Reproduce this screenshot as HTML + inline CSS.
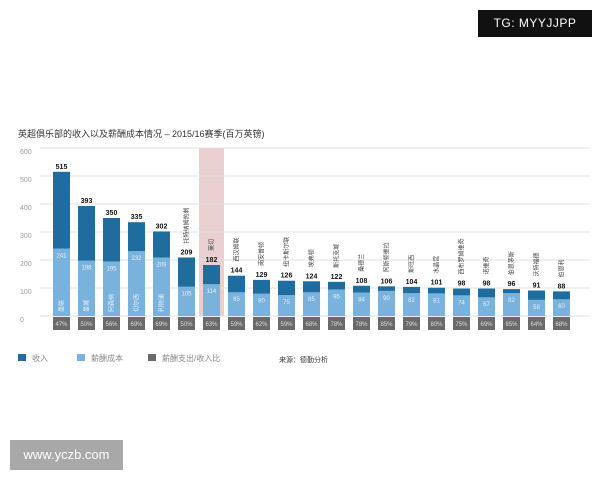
<!DOCTYPE html>
<html><head><meta charset="utf-8">
<style>
body{margin:0;width:600px;height:480px;background:#fff;overflow:hidden;position:relative;font-family:"Liberation Sans","Noto Sans CJK SC",sans-serif}
.abs{position:absolute}
</style></head>
<body>
<div class="abs" style="left:478px;top:10px;width:114px;height:27px;background:#111;color:#fff;font-size:12px;line-height:27px;text-align:center;letter-spacing:0.5px">TG: MYYJJPP</div>
<div class="abs" style="left:10px;top:440px;width:113px;height:30px;background:#a8a8a8;color:#fff;font-size:13px;line-height:30px;text-align:center">www.yczb.com</div>
<svg class="abs" style="left:0;top:0" width="600" height="480">
<text x="18" y="137" font-size="9" fill="#333">英超俱乐部的收入以及薪酬成本情况 – 2015/16赛季(百万英镑)</text>
<g id="grid"></g><g id="bars"></g>
<g font-size="8" fill="#888">
<rect x="18" y="354" width="8" height="7" fill="#1f6c9e"/><text x="32" y="361">收入</text>
<rect x="77" y="354" width="8" height="7" fill="#79b2dd"/><text x="91" y="361">薪酬成本</text>
<rect x="148" y="354" width="8" height="7" fill="#6a6a6a"/><text x="162" y="361">薪酬支出/收入比</text>
<text x="279" y="362" font-size="7" fill="#333">来源：德勤分析</text>
</g>
</svg>
<script>
const clubs=["曼联","曼城","阿森纳","切尔西","利物浦","托特纳姆热刺","莱切","西汉姆联","南安普顿","纽卡斯尔联","埃弗顿","斯托克城","桑德兰","阿斯顿维拉","斯旺西","水晶宫","西布罗姆维奇","诺维奇","伯恩茅斯","沃特福德","伯恩利"];
const revenue=[515,393,350,335,302,209,182,144,129,126,124,122,108,106,104,101,98,98,96,91,88];
const wages=[241,198,195,232,209,105,114,85,80,75,85,95,84,90,82,81,74,67,82,58,60];
const ratio=[47,50,56,69,69,50,63,59,62,59,68,78,78,85,79,80,75,69,85,64,68];
const ticks=[0,100,200,300,400,500,600];
const NS="http://www.w3.org/2000/svg";
const y0=316,k=0.28,x0=53,step=25,bw=17;
const Y=v=>y0-v*k, X=i=>x0+i*step;
function mk(t,a,p){const e=document.createElementNS(NS,t);for(const n in a)e.setAttribute(n,a[n]);p.appendChild(e);return e;}
const g=document.getElementById('grid'),b=document.getElementById('bars');
const hl=mk('rect',{x:X(6)-4,y:Y(600),width:bw+8,height:y0-Y(600),fill:'#e9cfd0'},g);


ticks.forEach(t=>{
 const l=mk('line',{x1:40,x2:590,y1:Y(t),y2:Y(t),stroke:'#e2e2e2','stroke-width':1},g);
 
 
 const tx=mk('text',{x:20,y:Y(t)+6,'font-size':7,fill:'#999'},g);tx.textContent=t;
 
 
});
revenue.forEach((r,i)=>{
 const x=X(i);
 const rr=mk('rect',{x:x,y:Y(r),width:bw,height:r*k,fill:'#1f6c9e'},b);
 
 
 const w=mk('rect',{x:x,y:Y(wages[i]),width:bw,height:wages[i]*k,fill:'#79b2dd'},b);
 
 
 const gr=mk('rect',{x:x,y:y0+1,width:bw,height:13,fill:'#6a6a6a'},b);
 
 
 const pt=mk('text',{x:x+bw/2,y:y0+10,'font-size':6,fill:'#ddd','text-anchor':'middle'},b);pt.textContent=ratio[i]+'%';
 
 
 const rv=mk('text',{x:x+bw/2,y:Y(r)-3,'font-size':7,'font-weight':'bold',fill:'#111','text-anchor':'middle'},b);rv.textContent=r;
 
 
 const wv=mk('text',{x:x+bw/2,y:Y(wages[i])+9,'font-size':6,fill:'#e8f2fa','text-anchor':'middle'},b);wv.textContent=wages[i];
 
 
 const inside=i<5;
 const cy=inside?y0-4:Y(r)-14;
 const cn=mk('text',{x:x+bw/2+2,y:cy,'font-size':6,fill:inside?'#e8f2fa':'#444',transform:`rotate(-90 ${x+bw/2+2} ${cy})`},b);cn.textContent=clubs[i];
 
 
});
</script>
</body></html>
